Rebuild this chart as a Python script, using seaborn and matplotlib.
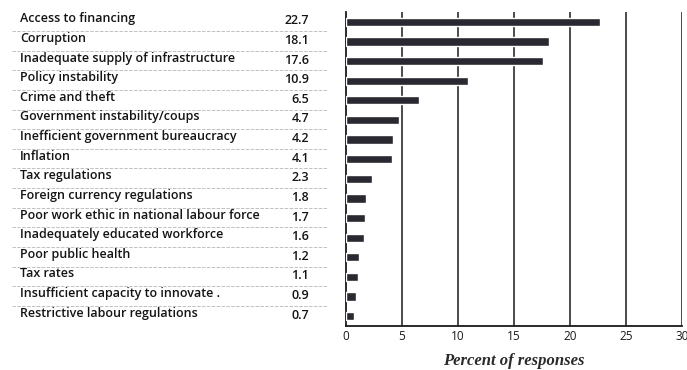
import matplotlib
matplotlib.use("Agg")
import matplotlib.pyplot as plt
import matplotlib.transforms as mtransforms
import seaborn as sns
import pandas as pd

categories = [
    "Access to financing",
    "Corruption",
    "Inadequate supply of infrastructure",
    "Policy instability",
    "Crime and theft",
    "Government instability/coups",
    "Inefficient government bureaucracy",
    "Inflation",
    "Tax regulations",
    "Foreign currency regulations",
    "Poor work ethic in national labour force",
    "Inadequately educated workforce",
    "Poor public health",
    "Tax rates",
    "Insufficient capacity to innovate .",
    "Restrictive labour regulations",
]
values = [22.7, 18.1, 17.6, 10.9, 6.5, 4.7, 4.2, 4.1, 2.3, 1.8, 1.7, 1.6, 1.2, 1.1, 0.9, 0.7]
value_labels = ["22.7", "18.1", "17.6", "10.9", "6.5", "4.7", "4.2", "4.1", "2.3", "1.8", "1.7", "1.6", "1.2", "1.1", "0.9", "0.7"]
x_ticks = [0, 5, 10, 15, 20, 25, 30]
x_label = "Percent of responses"

df = pd.DataFrame({"factor": categories, "pct": values})

sns.set_theme(style="white")
plt.rcParams["font.family"] = ["Open Sans", "DejaVu Sans"]

W, H = 687, 370
fig = plt.figure(figsize=(W / 100, H / 100), dpi=100)
ax = fig.add_axes([346 / W, 1 - 326 / H, (682 - 346) / W, (326 - 12) / H])

sns.barplot(data=df, x="pct", y="factor", order=categories, color="#2a2830",
            width=0.42, ax=ax, saturation=1, zorder=3)

ax.set_xlim(0, 30)
ax.set_ylim(len(categories) - 0.5, -0.5)
ax.set_xticks(x_ticks)
ax.set_xticklabels([str(t) for t in x_ticks], fontsize=8.5, color="#1a1a1a")
ax.tick_params(axis="x", length=0, pad=3)
ax.set_yticks([])
ax.set_ylabel("")
ax.set_xlabel(x_label, fontsize=12, family="Liberation Serif", style="italic",
              fontweight="bold", color="#2a2a2a", labelpad=7)

ax.grid(False)
ax.vlines(x_ticks[1:], -0.5, len(categories) - 0.5, colors="#1a1a1a",
          lw=1.1, zorder=1)

for s in ["top", "right"]:
    ax.spines[s].set_visible(False)
ax.spines["left"].set_color("#1a1a1a")
ax.spines["bottom"].set_color("#1a1a1a")
ax.spines["left"].set_linewidth(1.3)
ax.spines["bottom"].set_linewidth(1.3)

trans = mtransforms.blended_transform_factory(fig.transFigure, ax.transData)
for i, (cat, lab) in enumerate(zip(categories, value_labels)):
    ax.text(20 / W, i - 0.15, cat, transform=trans, ha="left", va="center",
            fontsize=9.0, fontweight="semibold", color="#141414", clip_on=False)
    ax.text(309 / W, i - 0.05, lab, transform=trans, ha="right", va="center",
            fontsize=9.0, fontweight="semibold", color="#141414", clip_on=False)
    if i < len(categories) - 1:
        ax.plot([12 / W, 328 / W], [i + 0.47, i + 0.47], transform=trans,
                color="#a8a8a8", lw=0.5, ls=(0, (5, 2)), clip_on=False)

fig.savefig("out.png", dpi=100)
